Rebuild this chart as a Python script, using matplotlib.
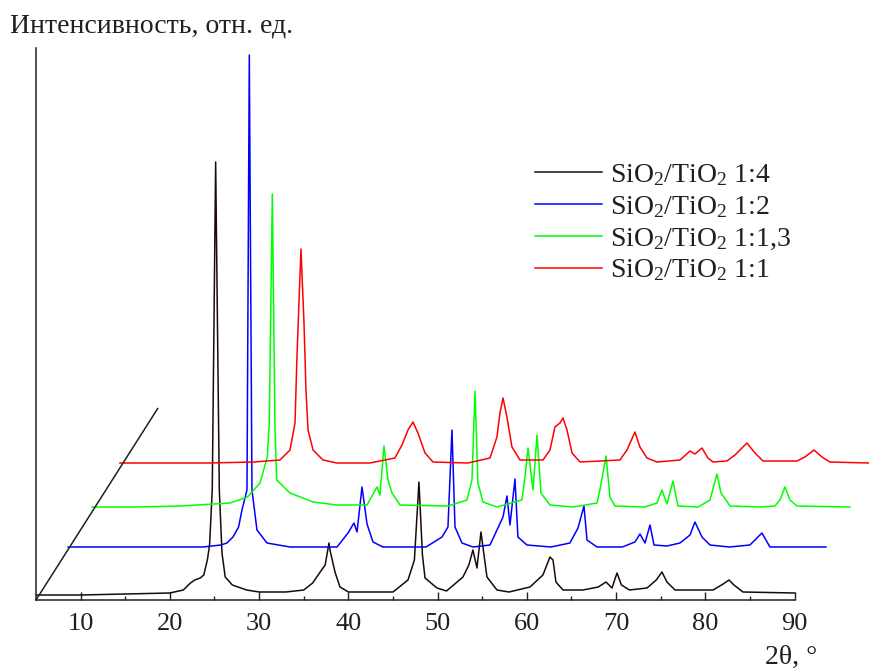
import matplotlib

matplotlib.use("Agg")
import matplotlib.pyplot as plt

# XRD patterns, 2theta (deg) vs intensity (arb. units).
# Each series is stored in its own frame; the waterfall shift is DX / DY.

# SiO2/TiO2 1:4
TTH_14 = [5.0, 10.0, 15.0, 20.0, 21.5, 22.3, 22.8, 23.4, 23.8, 24.2, 24.45, 24.75,
          25.13, 25.54, 25.84, 26.2, 27.0, 28.6, 30.0, 33.0, 35.0, 36.0, 37.0, 37.4,
          37.83, 37.94, 38.5, 39.06, 40.0, 45.0, 46.68, 47.4, 47.91, 48.3, 48.59,
          49.93, 51.0, 52.84, 53.5, 53.96, 54.41, 54.86, 55.2, 55.53, 56.65, 58.0,
          60.35, 61.8, 62.59, 62.93, 63.26, 64.05, 66.29, 68.0, 68.87, 69.54, 70.1,
          70.6, 71.5, 73.46, 74.5, 75.14, 75.7, 76.6, 80.86, 82.0, 82.65, 83.2,
          84.22, 90.0]
I_14 = [5, 5, 6, 7, 10, 17, 20, 22, 25, 40, 55, 110,
        438, 110, 47, 23, 15, 10, 8, 8, 10, 17, 30, 35,
        57, 50, 28, 13, 8, 8, 20, 40, 118, 45, 22,
        12, 9, 23, 35, 50, 32, 68, 45, 23, 10, 8,
        13, 25, 43, 40, 18, 10, 10, 13, 18, 12, 27,
        15, 10, 12, 20, 28, 18, 10, 10, 16, 20, 15,
        8, 7]

# SiO2/TiO2 1:2
TTH_12 = [4.9, 10.0, 15.0, 20.0, 22.0, 22.7, 23.37, 24.0, 24.38, 24.94, 25.2, 25.5,
          26.06, 27.18, 29.76, 35.03, 36.26, 36.93, 37.27, 37.83, 38.39, 39.06,
          40.18, 45.0, 46.79, 47.46, 47.91, 48.25, 49.03, 50.26, 52.17, 53.63,
          54.07, 54.41, 54.97, 55.3, 56.31, 59.0, 61.13, 62.03, 62.7, 63.04, 64.16,
          67.0, 68.41, 68.97, 69.54, 70.1, 70.55, 72.0, 73.46, 74.58, 75.14, 75.92,
          76.82, 79.0, 81.3, 82.64, 83.54, 89.82]
I_12 = [5, 5, 5, 5, 7, 9, 15, 25, 42, 62, 497, 62,
        22, 9, 5, 5, 19, 29, 20, 65, 28, 10,
        5, 5, 15, 25, 122, 25, 9, 5, 7, 35,
        56, 27, 73, 15, 7, 5, 9, 24, 46, 12, 5,
        5, 10, 18, 9, 27, 7, 6, 9, 17, 30, 15,
        7, 5, 7, 19, 5, 5]

# SiO2/TiO2 1:1,3
TTH_113 = [5.1, 10.0, 15.0, 20.54, 22.5, 23.9, 24.72, 24.94, 25.28, 25.58, 25.77,
           27.26, 29.84, 32.53, 35.89, 37.01, 37.34, 37.79, 38.24, 38.69, 39.58,
           45.0, 47.09, 47.65, 47.99, 48.32, 48.88, 50.45, 53.25, 53.59, 53.93,
           54.49, 54.94, 55.38, 56.39, 59.0, 61.66, 61.99, 62.67, 63.11, 63.67,
           67.0, 68.38, 68.94, 69.5, 70.17, 70.73, 73.0, 74.32, 75.1, 75.55, 75.89,
           76.56, 80.0, 81.6, 82.16, 82.72, 83.28, 84.07, 90.0]
I_113 = [5, 5, 6, 9, 15, 29, 55, 89, 318, 82, 32,
         19, 10, 7, 7, 25, 17, 66, 32, 19, 7,
         6, 12, 32, 121, 29, 10, 5, 12, 35, 64,
         22, 77, 19, 7, 5, 9, 22, 56, 15, 6,
         5, 9, 22, 8, 31, 6, 5, 12, 38, 19, 15,
         6, 5, 6, 12, 25, 12, 6, 5]

# SiO2/TiO2 1:1
TTH_11 = [5.0, 10.0, 15.0, 20.0, 22.94, 24.06, 24.62, 24.84, 25.29, 25.63, 25.85,
          26.08, 26.64, 27.76, 29.33, 33.0, 35.82, 36.61, 37.28, 37.84, 38.4,
          39.19, 40.08, 44.0, 46.47, 47.25, 47.59, 47.93, 48.37, 48.93, 49.83,
          52.41, 53.19, 53.75, 54.31, 54.65, 55.1, 55.66, 56.55, 61.03, 61.82,
          62.71, 63.27, 64.06, 65.18, 67.76, 68.88, 69.44, 70.22, 70.89, 71.46,
          73.02, 73.92, 75.26, 76.16, 77.06, 80.87, 81.76, 82.77, 83.67, 84.56,
          88.93]
I_11 = [5, 5, 5, 6, 8, 18, 45, 111, 219, 145, 78,
        38, 18, 8, 5, 5, 10, 23, 38, 46, 35,
        15, 6, 5, 10, 31, 55, 70, 51, 21, 8,
        8, 18, 41, 45, 50, 38, 15, 6, 8, 18,
        36, 21, 10, 6, 8, 17, 14, 20, 10, 6,
        7, 13, 25, 15, 7, 7, 11, 18, 11, 6,
        5]

LABELS = [r"SiO$_\mathrm{2}$/TiO$_\mathrm{2}$ 1:4",
          r"SiO$_\mathrm{2}$/TiO$_\mathrm{2}$ 1:2",
          r"SiO$_\mathrm{2}$/TiO$_\mathrm{2}$ 1:1,3",
          r"SiO$_\mathrm{2}$/TiO$_\mathrm{2}$ 1:1"]
COLORS = ["#1a0a0a", "#0000ff", "#00ff00", "#ff0000"]
DX = [0.0, 3.7, 6.2, 9.4]
DY = [0.0, 48.0, 88.0, 132.0]
MAJOR_TICKS = [10, 20, 30, 40, 50, 60, 70, 80, 90]
MINOR_TICKS = [15, 25, 35, 45, 55, 65, 75, 85]

INK = "#231f20"

plt.rcParams["font.family"] = ["Liberation Serif", "DejaVu Serif"]
plt.rcParams["mathtext.fontset"] = "custom"
plt.rcParams["mathtext.rm"] = "Liberation Serif"
plt.rcParams["mathtext.it"] = "Liberation Serif:italic"

fig = plt.figure(figsize=(8.7, 6.69), dpi=100)
ax = fig.add_axes([36 / 870, 69 / 669, 834 / 870, 552 / 669])

series = [(TTH_14, I_14), (TTH_12, I_12), (TTH_113, I_113), (TTH_11, I_11)]
for (tth, inten), lab, col, dx, dy in zip(series, LABELS, COLORS, DX, DY):
    ax.plot([t + dx for t in tth], [v + dy for v in inten],
            color=col, linewidth=1.1, label=lab, solid_joinstyle="round")

# depth axis of the waterfall, along the series shift
ax.plot([5.0, 5.0 + 1.45 * DX[3]], [0.0, 1.45 * DY[3]], color=INK, linewidth=1.1)

ax.set_xlim(5.0, 98.45)
ax.set_ylim(0, 552)
for s in ("top", "right"):
    ax.spines[s].set_visible(False)
ax.spines["bottom"].set_bounds(5, 90)
ax.spines["left"].set_color(INK)
ax.spines["bottom"].set_color(INK)
ax.spines["left"].set_linewidth(1.1)
ax.spines["bottom"].set_linewidth(1.1)
ax.set_yticks([])
ax.set_xticks(MAJOR_TICKS)
ax.set_xticks(MINOR_TICKS, minor=True)
ax.tick_params(axis="x", which="major", direction="in", length=5.5, width=1.0,
               color=INK, labelcolor=INK, labelsize=19, pad=9)
ax.tick_params(axis="x", which="minor", direction="in", length=3, width=1.0,
               color=INK)
ax.set_xlim(5.0, 98.45)

leg = ax.legend(loc="upper left", bbox_to_anchor=(535 / 870, 1 - 162 / 669),
                bbox_transform=fig.transFigure, frameon=False, fontsize=20,
                borderpad=0, borderaxespad=0, handlelength=2.41,
                handletextpad=0.29, labelspacing=0.22)
for t in leg.get_texts():
    t.set_color(INK)

fig.text(10 / 870, 1 - 33 / 669, "Интенсивность, отн. ед.", fontsize=20,
         color=INK, va="baseline", ha="left")
fig.text(765 / 870, 1 - 664 / 669, "2θ, °", fontsize=20, color=INK,
         va="baseline", ha="left")

fig.savefig("out.png", dpi=100)
